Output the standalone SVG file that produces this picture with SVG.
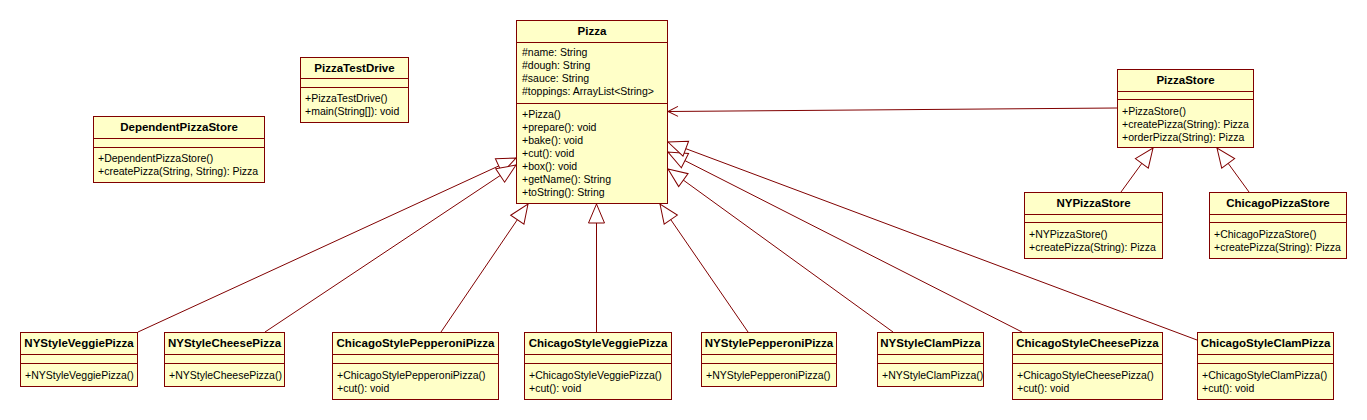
<svg xmlns="http://www.w3.org/2000/svg" width="1367" height="420" viewBox="0 0 1367 420">
<style>
.box{fill:#ffffc8;stroke:#800000;stroke-width:1}
.sep{stroke:#800000;stroke-width:1}
.t{font-family:"Liberation Sans",Arial,sans-serif;font-size:10.5px;fill:#000}
.h{font-family:"Liberation Sans",Arial,sans-serif;font-size:11.5px;font-weight:bold;fill:#000;text-anchor:middle}
.conn{stroke:#800000;stroke-width:1;fill:none}
</style>
<defs>
<marker id="gen" markerUnits="userSpaceOnUse" markerWidth="22" markerHeight="20" viewBox="-1 -10 22 20" refX="19" refY="0" orient="auto">
<path d="M0,-8 L19,0 L0,8 Z" fill="#ffffff" stroke="#800000" stroke-width="1"/>
</marker>
<marker id="open" markerUnits="userSpaceOnUse" markerWidth="14" markerHeight="14" viewBox="-1 -7 14 14" refX="11" refY="0" orient="auto">
<path d="M1,-5 L11,0 L1,5" fill="none" stroke="#800000" stroke-width="1"/>
</marker>
</defs>
<rect width="1367" height="420" fill="#ffffff"/>

<g id="connectors">
<path class="conn" d="M138,332 L516,158" marker-end="url(#gen)"/>
<path class="conn" d="M265,332 L516,165" marker-end="url(#gen)"/>
<path class="conn" d="M441,332 L528,204" marker-end="url(#gen)"/>
<path class="conn" d="M596.5,332 L596.5,204" marker-end="url(#gen)"/>
<path class="conn" d="M748,332 L660,204" marker-end="url(#gen)"/>
<path class="conn" d="M893,332 L668,169" marker-end="url(#gen)"/>
<path class="conn" d="M1022,332 L668,152" marker-end="url(#gen)"/>
<path class="conn" d="M1197,340 L668,142" marker-end="url(#gen)"/>
<path class="conn" d="M1121,192 L1153,148" marker-end="url(#gen)"/>
<path class="conn" d="M1249,192 L1217,148" marker-end="url(#gen)"/>
<path class="conn" d="M1117,108 L668,111.5" marker-end="url(#open)"/>
</g>

<g id="Pizza">
<rect class="box" x="516.5" y="20.5" width="151" height="183"/>
<line class="sep" x1="516.5" y1="42.5" x2="667.5" y2="42.5"/>
<line class="sep" x1="516.5" y1="103.5" x2="667.5" y2="103.5"/>
<text class="h" x="592" y="35">Pizza</text>
<text class="t" x="522" y="56">#name: String</text>
<text class="t" x="522" y="69">#dough: String</text>
<text class="t" x="522" y="82">#sauce: String</text>
<text class="t" x="522" y="95">#toppings: ArrayList&lt;String&gt;</text>
<text class="t" x="522" y="118">+Pizza()</text>
<text class="t" x="522" y="131">+prepare(): void</text>
<text class="t" x="522" y="144">+bake(): void</text>
<text class="t" x="522" y="157">+cut(): void</text>
<text class="t" x="522" y="170">+box(): void</text>
<text class="t" x="522" y="183">+getName(): String</text>
<text class="t" x="522" y="196">+toString(): String</text>
</g>

<g id="PizzaTestDrive">
<rect class="box" x="300.5" y="57.5" width="108" height="65"/>
<line class="sep" x1="300.5" y1="78.5" x2="408.5" y2="78.5"/>
<line class="sep" x1="300.5" y1="87.5" x2="408.5" y2="87.5"/>
<text class="h" x="354.5" y="72">PizzaTestDrive</text>
<text class="t" x="305" y="102">+PizzaTestDrive()</text>
<text class="t" x="305" y="115">+main(String[]): void</text>
</g>

<g id="DependentPizzaStore">
<rect class="box" x="93.5" y="116.5" width="171" height="66"/>
<line class="sep" x1="93.5" y1="138.5" x2="264.5" y2="138.5"/>
<line class="sep" x1="93.5" y1="147.5" x2="264.5" y2="147.5"/>
<text class="h" x="179" y="131">DependentPizzaStore</text>
<text class="t" x="98" y="162">+DependentPizzaStore()</text>
<text class="t" x="98" y="175">+createPizza(String, String): Pizza</text>
</g>

<g id="PizzaStore">
<rect class="box" x="1117.5" y="69.5" width="136" height="78"/>
<line class="sep" x1="1117.5" y1="91.5" x2="1253.5" y2="91.5"/>
<line class="sep" x1="1117.5" y1="99.5" x2="1253.5" y2="99.5"/>
<text class="h" x="1185.5" y="84">PizzaStore</text>
<text class="t" x="1122" y="115">+PizzaStore()</text>
<text class="t" x="1122" y="128">+createPizza(String): Pizza</text>
<text class="t" x="1122" y="141">+orderPizza(String): Pizza</text>
</g>

<g id="NYPizzaStore">
<rect class="box" x="1024.5" y="192.5" width="138" height="66"/>
<line class="sep" x1="1024.5" y1="214.5" x2="1162.5" y2="214.5"/>
<line class="sep" x1="1024.5" y1="222.5" x2="1162.5" y2="222.5"/>
<text class="h" x="1093.5" y="207">NYPizzaStore</text>
<text class="t" x="1029" y="238">+NYPizzaStore()</text>
<text class="t" x="1029" y="251">+createPizza(String): Pizza</text>
</g>

<g id="ChicagoPizzaStore">
<rect class="box" x="1209.5" y="192.5" width="137" height="66"/>
<line class="sep" x1="1209.5" y1="214.5" x2="1346.5" y2="214.5"/>
<line class="sep" x1="1209.5" y1="222.5" x2="1346.5" y2="222.5"/>
<text class="h" x="1278" y="207">ChicagoPizzaStore</text>
<text class="t" x="1214" y="238">+ChicagoPizzaStore()</text>
<text class="t" x="1214" y="251">+createPizza(String): Pizza</text>
</g>

<g id="NYStyleVeggiePizza">
<rect class="box" x="20.5" y="332.5" width="117" height="54"/>
<line class="sep" x1="20.5" y1="354.5" x2="137.5" y2="354.5"/>
<line class="sep" x1="20.5" y1="363.5" x2="137.5" y2="363.5"/>
<text class="h" x="79" y="347">NYStyleVeggiePizza</text>
<text class="t" x="25" y="379">+NYStyleVeggiePizza()</text>
</g>

<g id="NYStyleCheesePizza">
<rect class="box" x="164.5" y="332.5" width="120" height="54"/>
<line class="sep" x1="164.5" y1="354.5" x2="284.5" y2="354.5"/>
<line class="sep" x1="164.5" y1="363.5" x2="284.5" y2="363.5"/>
<text class="h" x="224.5" y="347">NYStyleCheesePizza</text>
<text class="t" x="169" y="379">+NYStyleCheesePizza()</text>
</g>

<g id="ChicagoStylePepperoniPizza">
<rect class="box" x="332.5" y="332.5" width="166" height="67"/>
<line class="sep" x1="332.5" y1="354.5" x2="498.5" y2="354.5"/>
<line class="sep" x1="332.5" y1="363.5" x2="498.5" y2="363.5"/>
<text class="h" x="415.5" y="347">ChicagoStylePepperoniPizza</text>
<text class="t" x="337" y="379">+ChicagoStylePepperoniPizza()</text>
<text class="t" x="337" y="392">+cut(): void</text>
</g>

<g id="ChicagoStyleVeggiePizza">
<rect class="box" x="524.5" y="332.5" width="147" height="67"/>
<line class="sep" x1="524.5" y1="354.5" x2="671.5" y2="354.5"/>
<line class="sep" x1="524.5" y1="363.5" x2="671.5" y2="363.5"/>
<text class="h" x="598" y="347">ChicagoStyleVeggiePizza</text>
<text class="t" x="529" y="379">+ChicagoStyleVeggiePizza()</text>
<text class="t" x="529" y="392">+cut(): void</text>
</g>

<g id="NYStylePepperoniPizza">
<rect class="box" x="701.5" y="332.5" width="135" height="54"/>
<line class="sep" x1="701.5" y1="354.5" x2="836.5" y2="354.5"/>
<line class="sep" x1="701.5" y1="363.5" x2="836.5" y2="363.5"/>
<text class="h" x="769" y="347">NYStylePepperoniPizza</text>
<text class="t" x="706" y="379">+NYStylePepperoniPizza()</text>
</g>

<g id="NYStyleClamPizza">
<rect class="box" x="877.5" y="332.5" width="106" height="54"/>
<line class="sep" x1="877.5" y1="354.5" x2="983.5" y2="354.5"/>
<line class="sep" x1="877.5" y1="363.5" x2="983.5" y2="363.5"/>
<text class="h" x="930.5" y="347">NYStyleClamPizza</text>
<text class="t" x="882" y="379">+NYStyleClamPizza()</text>
</g>

<g id="ChicagoStyleCheesePizza">
<rect class="box" x="1012.5" y="332.5" width="150" height="67"/>
<line class="sep" x1="1012.5" y1="354.5" x2="1162.5" y2="354.5"/>
<line class="sep" x1="1012.5" y1="363.5" x2="1162.5" y2="363.5"/>
<text class="h" x="1087.5" y="347">ChicagoStyleCheesePizza</text>
<text class="t" x="1017" y="379">+ChicagoStyleCheesePizza()</text>
<text class="t" x="1017" y="392">+cut(): void</text>
</g>

<g id="ChicagoStyleClamPizza">
<rect class="box" x="1197.5" y="332.5" width="136" height="67"/>
<line class="sep" x1="1197.5" y1="354.5" x2="1333.5" y2="354.5"/>
<line class="sep" x1="1197.5" y1="363.5" x2="1333.5" y2="363.5"/>
<text class="h" x="1265.5" y="347">ChicagoStyleClamPizza</text>
<text class="t" x="1202" y="379">+ChicagoStyleClamPizza()</text>
<text class="t" x="1202" y="392">+cut(): void</text>
</g>
</svg>
